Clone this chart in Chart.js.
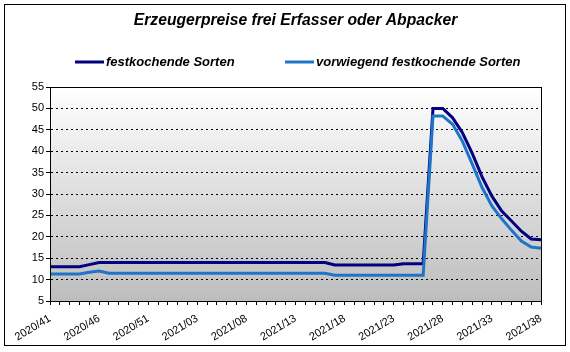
<!DOCTYPE html>
<html>
<head>
<meta charset="utf-8">
<script src="https://cdn.jsdelivr.net/npm/chart.js@4/dist/chart.umd.min.js"></script>
<style>
  html, body { margin: 0; padding: 0; background: #fff; }
  #wrap { width: 570px; height: 352px; position: relative; }
</style>
</head>
<body>
<div id="wrap"><canvas id="c" width="570" height="352"></canvas></div>
<script>
const chartTitle = 'Erzeugerpreise frei Erfasser oder Abpacker';
const seriesNames = ['festkochende Sorten', 'vorwiegend festkochende Sorten'];
const weeks = [
  '2020/41','2020/42','2020/43','2020/44','2020/45','2020/46','2020/47','2020/48','2020/49','2020/50',
  '2020/51','2020/52','2020/53','2021/01','2021/02','2021/03','2021/04','2021/05','2021/06','2021/07',
  '2021/08','2021/09','2021/10','2021/11','2021/12','2021/13','2021/14','2021/15','2021/16','2021/17',
  '2021/18','2021/19','2021/20','2021/21','2021/22','2021/23','2021/24','2021/25','2021/26','2021/27',
  '2021/28','2021/29','2021/30','2021/31','2021/32','2021/33','2021/34','2021/35','2021/36','2021/37',
  '2021/38'
];
const festkochend = [
  13, 13, 13, 13, 13.5, 14, 14, 14, 14, 14,
  14, 14, 14, 14, 14, 14, 14, 14, 14, 14,
  14, 14, 14, 14, 14, 14, 14, 14, 14, 13.4,
  13.4, 13.4, 13.4, 13.4, 13.4, 13.4, 13.7, 13.7, 13.7, 50,
  50, 47.8, 44.3, 39.5, 34, 29.5, 26, 23.7, 21.3, 19.5,
  19.3
];
const vorwiegendFestkochend = [
  11.3, 11.3, 11.3, 11.3, 11.7, 12.0, 11.5, 11.5, 11.5, 11.5,
  11.5, 11.5, 11.5, 11.5, 11.5, 11.5, 11.5, 11.5, 11.5, 11.5,
  11.5, 11.5, 11.5, 11.5, 11.5, 11.5, 11.5, 11.5, 11.5, 11.0,
  11.0, 11.0, 11.0, 11.0, 11.0, 11.0, 11.0, 11.0, 11.0, 48.2,
  48.2, 46.3, 42.3, 37, 31.5, 27.2, 24.2, 21.5, 19, 17.6,
  17.3
];
const yMin = 5, yMax = 55, yStep = 5;
const labelEvery = 5;

const colors = ['#000080', '#1E74C8'];
const FONT = "'Liberation Sans', Arial, sans-serif";

const bgPlugin = {
  id: 'bg',
  afterLayout(chart) {
    const tb = chart.titleBlock;
    if (tb) { tb.left += 20; tb.right += 20; }
  },
  beforeDraw(chart) {
    const ctx = chart.ctx, a = chart.chartArea;
    ctx.save();
    ctx.fillStyle = '#fff';
    ctx.fillRect(0, 0, chart.width, chart.height);
    const g = ctx.createLinearGradient(0, a.top, 0, a.bottom);
    g.addColorStop(0, '#ffffff');
    g.addColorStop(1, '#bdbdbd');
    ctx.fillStyle = g;
    ctx.fillRect(a.left, a.top, a.right - a.left, a.bottom - a.top);
    ctx.restore();
  },
  afterDraw(chart) {
    const ctx = chart.ctx, a = chart.chartArea;
    ctx.save();
    ctx.strokeStyle = '#000';
    ctx.lineWidth = 1;
    ctx.strokeRect(Math.round(a.left) + 0.5, Math.round(a.top) + 0.5,
                   Math.round(a.right - a.left), Math.round(a.bottom - a.top));
    ctx.strokeRect(4.5, 4.5, 561, 341);
    // legend
    const itemX = [75, 285];
    const y = 62;
    ctx.font = "italic bold 13px " + FONT;
    ctx.textBaseline = 'middle';
    ctx.textAlign = 'left';
    chart.data.datasets.forEach((ds, i) => {
      ctx.fillStyle = ds.borderColor;
      ctx.fillRect(itemX[i], y - 1.5, 29, 3);
      ctx.fillStyle = '#000';
      ctx.fillText(ds.label, itemX[i] + 31, y);
    });
    ctx.restore();
  }
};

new Chart(document.getElementById('c'), {
  type: 'line',
  data: {
    labels: weeks,
    datasets: [
      { label: seriesNames[0], data: festkochend, borderColor: colors[0], backgroundColor: colors[0],
        borderWidth: 3, pointRadius: 0, tension: 0, order: 1 },
      { label: seriesNames[1], data: vorwiegendFestkochend, borderColor: colors[1], backgroundColor: colors[1],
        borderWidth: 3, pointRadius: 0, tension: 0, order: 0 }
    ]
  },
  options: {
    responsive: false,
    animation: false,
    devicePixelRatio: 1,
    layout: { padding: { top: 9, left: 10, right: 29, bottom: 11 } },
    plugins: {
      tooltip: { enabled: false },
      legend: { display: false },
      title: {
        display: true, text: chartTitle, color: '#000',
        font: { family: FONT, size: 15.7, weight: 'bold', style: 'italic', lineHeight: 1.0 },
        padding: { top: 4, bottom: 58.3 }
      }
    },
    scales: {
      x: {
        type: 'category',
        offset: false,
        afterFit(s) { s.height = 40; },
        grid: { display: true, drawOnChartArea: false, drawTicks: true, tickLength: 4,
                color: '#000', tickColor: '#000', tickBorderDash: [] },
        border: { display: true, color: '#000' },
        ticks: {
          autoSkip: false, minRotation: 31, maxRotation: 31, padding: 7,
          color: '#000', font: { family: FONT, size: 11 },
          callback(v, i) { return i % labelEvery === 0 ? weeks[i] : ''; }
        }
      },
      y: {
        min: yMin, max: yMax,
        afterFit(s) { s.width = 40; },
        grid: {
          drawTicks: true, tickLength: 4, tickColor: '#000', tickBorderDash: [],
          color: (c) => (c.tick && (c.tick.value === yMin || c.tick.value === yMax)) ? 'rgba(0,0,0,0)' : '#000',
          lineWidth: 1
        },
        border: { display: true, color: '#000', dash: [2, 3] },
        ticks: { stepSize: yStep, padding: 2, color: '#000', font: { family: FONT, size: 11 } }
      }
    }
  },
  plugins: [bgPlugin]
});
</script>
</body>
</html>
